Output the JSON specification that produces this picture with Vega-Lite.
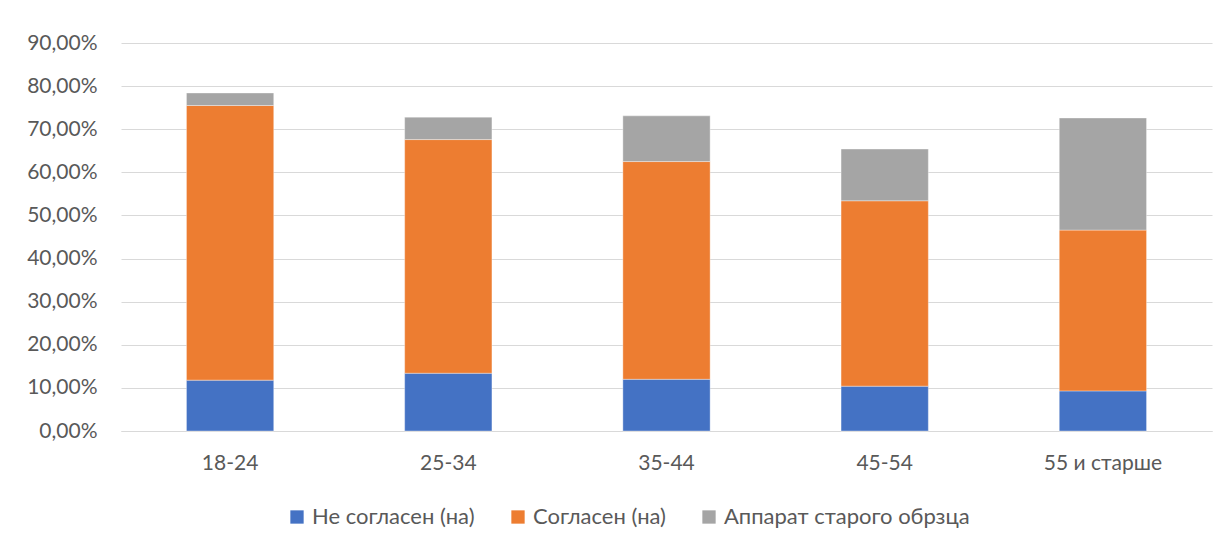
{
  "$schema": "https://vega.github.io/schema/vega-lite/v6.json",
  "width": 1091,
  "height": 388,
  "autosize": {"type": "none"},
  "padding": {"left": 121, "top": 43, "right": 15, "bottom": 116},
  "background": "white",
  "data": {
    "values": [
      {"age": "18-24", "series": "Не согласен (на)", "ord": 1, "value": 11.8},
      {"age": "18-24", "series": "Согласен (на)", "ord": 2, "value": 63.7},
      {"age": "18-24", "series": "Аппарат старого обрзца", "ord": 3, "value": 2.9},
      {"age": "25-34", "series": "Не согласен (на)", "ord": 1, "value": 13.4},
      {"age": "25-34", "series": "Согласен (на)", "ord": 2, "value": 54.2},
      {"age": "25-34", "series": "Аппарат старого обрзца", "ord": 3, "value": 5.2},
      {"age": "35-44", "series": "Не согласен (на)", "ord": 1, "value": 12.0},
      {"age": "35-44", "series": "Согласен (на)", "ord": 2, "value": 50.5},
      {"age": "35-44", "series": "Аппарат старого обрзца", "ord": 3, "value": 10.6},
      {"age": "45-54", "series": "Не согласен (на)", "ord": 1, "value": 10.4},
      {"age": "45-54", "series": "Согласен (на)", "ord": 2, "value": 43.0},
      {"age": "45-54", "series": "Аппарат старого обрзца", "ord": 3, "value": 12.0},
      {"age": "55 и старше", "series": "Не согласен (на)", "ord": 1, "value": 9.3},
      {"age": "55 и старше", "series": "Согласен (на)", "ord": 2, "value": 37.3},
      {"age": "55 и старше", "series": "Аппарат старого обрзца", "ord": 3, "value": 26.0}
    ]
  },
  "mark": {"type": "bar", "stroke": "white", "strokeWidth": 0.6, "strokeOpacity": 0.6},
  "encoding": {
    "x": {
      "field": "age",
      "type": "nominal",
      "sort": null,
      "scale": {"paddingInner": 0.6, "paddingOuter": 0.3},
      "axis": {
        "title": null,
        "labelAngle": 0,
        "ticks": false,
        "domain": true,
        "domainColor": "#d9d9d9",
        "labelPadding": 21,
        "labelFont": "Lato",
        "labelFontSize": 21,
        "labelColor": "#595959"
      }
    },
    "y": {
      "field": "value",
      "type": "quantitative",
      "stack": "zero",
      "scale": {"domain": [0, 90], "nice": false},
      "axis": {
        "title": null,
        "values": [0, 10, 20, 30, 40, 50, 60, 70, 80, 90],
        "labelExpr": "replace(format(datum.value, '.2f'), '.', ',') + '%'",
        "ticks": false,
        "domain": false,
        "grid": true,
        "gridColor": "#d9d9d9",
        "gridWidth": 1,
        "labelPadding": 24,
        "labelFont": "Lato",
        "labelFontSize": 21,
        "labelColor": "#595959"
      }
    },
    "color": {
      "field": "series",
      "type": "nominal",
      "sort": ["Не согласен (на)", "Согласен (на)", "Аппарат старого обрзца"],
      "scale": {
        "domain": ["Не согласен (на)", "Согласен (на)", "Аппарат старого обрзца"],
        "range": ["#4472C4", "#ED7D31", "#A5A5A5"]
      },
      "legend": {
        "title": null,
        "orient": "none",
        "legendX": 165,
        "legendY": 463,
        "direction": "horizontal",
        "symbolType": "square",
        "symbolSize": 177,
        "symbolStrokeWidth": 0,
        "labelFont": "Lato",
        "labelFontSize": 22,
        "labelLimit": 400,
        "labelColor": "#595959",
        "labelOffset": 4,
        "columnPadding": 32
      }
    },
    "order": {"field": "ord", "type": "quantitative"}
  },
  "config": {"view": {"stroke": null}}
}
